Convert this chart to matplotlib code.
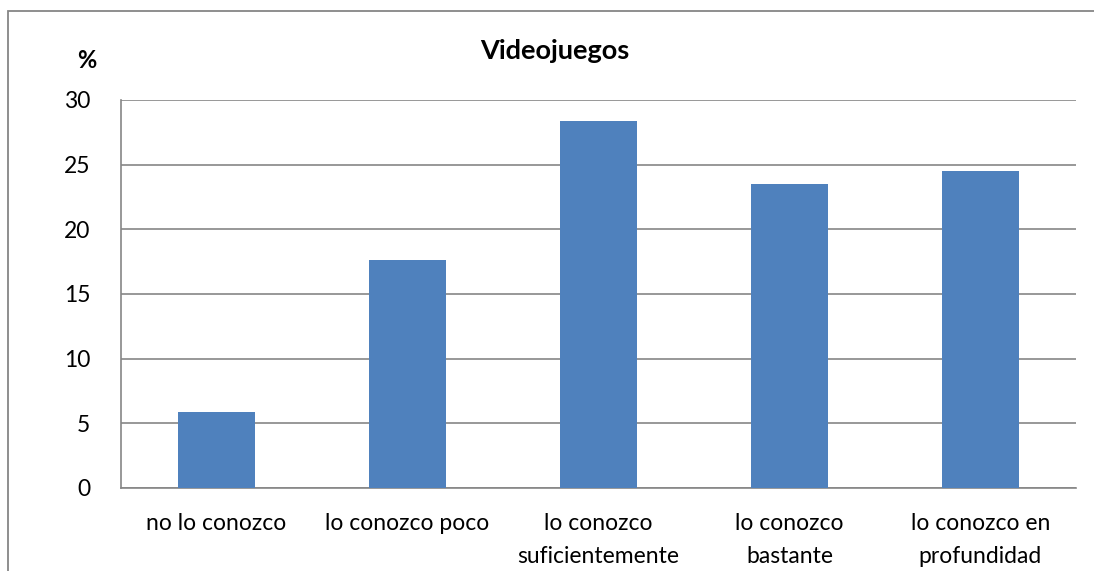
import matplotlib.pyplot as plt
from matplotlib.patches import Rectangle

# Data
categories = ["no lo conozco", "lo conozco poco", "lo conozco\nsuficientemente",
              "lo conozco\nbastante", "lo conozco en\nprofundidad"]
values = [5.9, 17.6, 28.4, 23.5, 24.5]
yticks = [0, 5, 10, 15, 20, 25, 30]

plt.rcParams['font.family'] = ['Lato', 'DejaVu Sans']

fig = plt.figure(figsize=(10.94, 5.71), dpi=100)
ax = fig.add_axes([121 / 1094, 1 - 488 / 571, (1076 - 121) / 1094, (488 - 100) / 571])

x = range(len(categories))
ax.bar(x, values, width=0.4, color='#4F81BD', zorder=3)

ax.set_xlim(-0.5, len(categories) - 0.5)
ax.set_ylim(0, 30)
ax.set_yticks(yticks)
ax.set_xticks(list(x))
ax.set_xticklabels(categories, fontsize=16.5, linespacing=1.7)
ax.tick_params(axis='y', length=0, pad=22, labelsize=16.5)
ax.tick_params(axis='x', length=0, pad=18)
ax.grid(axis='y', color='#868686', linewidth=1.2, zorder=0)

for side in ['top', 'right']:
    ax.spines[side].set_visible(False)
for side in ['left', 'bottom']:
    ax.spines[side].set_color('#868686')
    ax.spines[side].set_linewidth(1.2)

fig.text(555 / 1094, 1 - 51 / 571, "Videojuegos", fontsize=19.5, fontweight='bold',
         ha='center', va='center')
fig.text(87 / 1094, 1 - 60 / 571, "%", fontsize=17, fontweight='bold',
         ha='center', va='center')

# outer chart frame (cut off at right and bottom)
fig.patches.append(Rectangle((7.5 / 1094, -0.1), 1.2, 1.1 - 11 / 571,
                             transform=fig.transFigure, fill=False,
                             edgecolor='#868686', linewidth=1.3))

fig.savefig("out.png", dpi=100)
